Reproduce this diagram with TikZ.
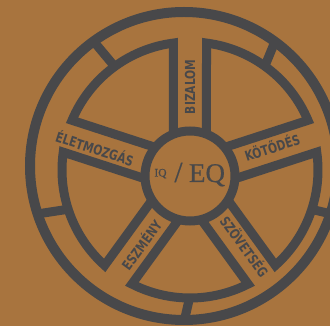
\documentclass[tikz,border=0pt]{standalone}
\usepackage{fontspec}
\usepackage{graphicx}
\newfontfamily\spokefont{DejaVu Sans Condensed Bold}
\newfontfamily\ctrfont[FakeBold=0.6]{Liberation Serif}
\definecolor{bg}{HTML}{A8743E}
\definecolor{ink}{HTML}{48484A}
\newcommand\sq[1]{\scalebox{0.86}[1]{#1}}
\begin{document}
\begin{tikzpicture}[x=1pt,y=1pt,
  rim/.style={draw=ink,line width=10pt},
  ring/.style={draw=ink,line width=9pt,line join=miter},
  lab/.style={text=ink,font=\spokefont\fontsize{13.8}{13.8}\selectfont,inner sep=0pt},
  ctr/.style={text=ink,inner sep=0pt}]
\useasboundingbox (-190,-150) rectangle (140,176);
\fill[bg] (-190,-150) rectangle (140,176);
\clip (-190,-150) rectangle (140,176);
\def\W{16.5}\def\RI{128}\def\RC{45}\def\CY{6}
\draw[rim] (-6,10) circle (154);
\draw[ring] (0,0) circle (\RC);
\foreach \a in {90,162,234,306,378} {
  \pgfmathsetmacro\b{\a+72}
  \pgfmathsetmacro\cua{\CY*sin(\a)}
  \pgfmathsetmacro\cna{\CY*cos(\a)}
  \pgfmathsetmacro\ta{(\cua)+10*sqrt(((\cua)^2-\W*\W+2*\W*(\cna)-\CY*\CY)/100+(\RI/10)^2)}
  \pgfmathsetmacro\pax{(\ta)*cos(\a)-\W*sin(\a)}
  \pgfmathsetmacro\pay{(\ta)*sin(\a)+\W*cos(\a)}
  \pgfmathsetmacro\cub{\CY*sin(\b)}
  \pgfmathsetmacro\cnb{\CY*cos(\b)}
  \pgfmathsetmacro\tb{(\cub)+10*sqrt(((\cub)^2-\W*\W-2*\W*(\cnb)-\CY*\CY)/100+(\RI/10)^2)}
  \pgfmathsetmacro\pbx{(\tb)*cos(\b)+\W*sin(\b)}
  \pgfmathsetmacro\pby{(\tb)*sin(\b)-\W*cos(\b)}
  \pgfmathsetmacro\sa{atan2((\pay)-\CY,\pax)}
  \pgfmathsetmacro\ea{atan2((\pby)-\CY,\pbx)}
  \pgfmathsetmacro\eb{(\ea)<(\sa) ? (\ea)+360 : (\ea)}
  \pgfmathsetmacro\tc{sqrt(\RC*\RC-\W*\W)}
  \pgfmathsetmacro\qax{(\tc)*cos(\a)-\W*sin(\a)}
  \pgfmathsetmacro\qay{(\tc)*sin(\a)+\W*cos(\a)}
  \pgfmathsetmacro\qbx{(\tc)*cos(\b)+\W*sin(\b)}
  \pgfmathsetmacro\qby{(\tc)*sin(\b)-\W*cos(\b)}
  \draw[ring] (\qax,\qay) -- (\pax,\pay) arc[start angle=\sa, end angle=\eb, radius=\RI] -- (\qbx,\qby);
  \pgfmathsetmacro\m{\a+36}
  \pgfmathsetmacro\ix{(\RI-2)*cos(\m)}
  \pgfmathsetmacro\iy{\CY+(\RI-2)*sin(\m)}
  \pgfmathsetmacro\ox{-6+156*cos(\m)}
  \pgfmathsetmacro\oy{10+156*sin(\m)}
  \draw[ring] (\ix,\iy) -- (\ox,\oy);
}
\node[lab,rotate=90] (bizalom) at (0,89) {\sq{BIZALOM}};
\node[lab,rotate=18] (kotodes) at (82,29) {\sq{KÖTŐDÉS}};
\node[lab,rotate=-18] (eletmozgas) at (-95,28) {\sq{ÉLETMOZGÁS}};
\node[lab,rotate=54] (eszmeny) at (-49,-69) {\sq{ESZMÉNY}};
\node[lab,rotate=-54] (szovetseg) at (55,-70) {\sq{SZÖVETSÉG}};
\node[ctr,anchor=base,font=\ctrfont\fontsize{11.5}{11.5}\selectfont] (iq) at (-29.5,-0.5) {IQ};
\node[ctr,font=\ctrfont\fontsize{29}{29}\selectfont] (slash) at (-11.5,3.5) {/};
\node[ctr,anchor=base,font=\ctrfont\fontsize{27}{27}\selectfont] (eq) at (17,-6) {EQ};
\end{tikzpicture}
\end{document}
